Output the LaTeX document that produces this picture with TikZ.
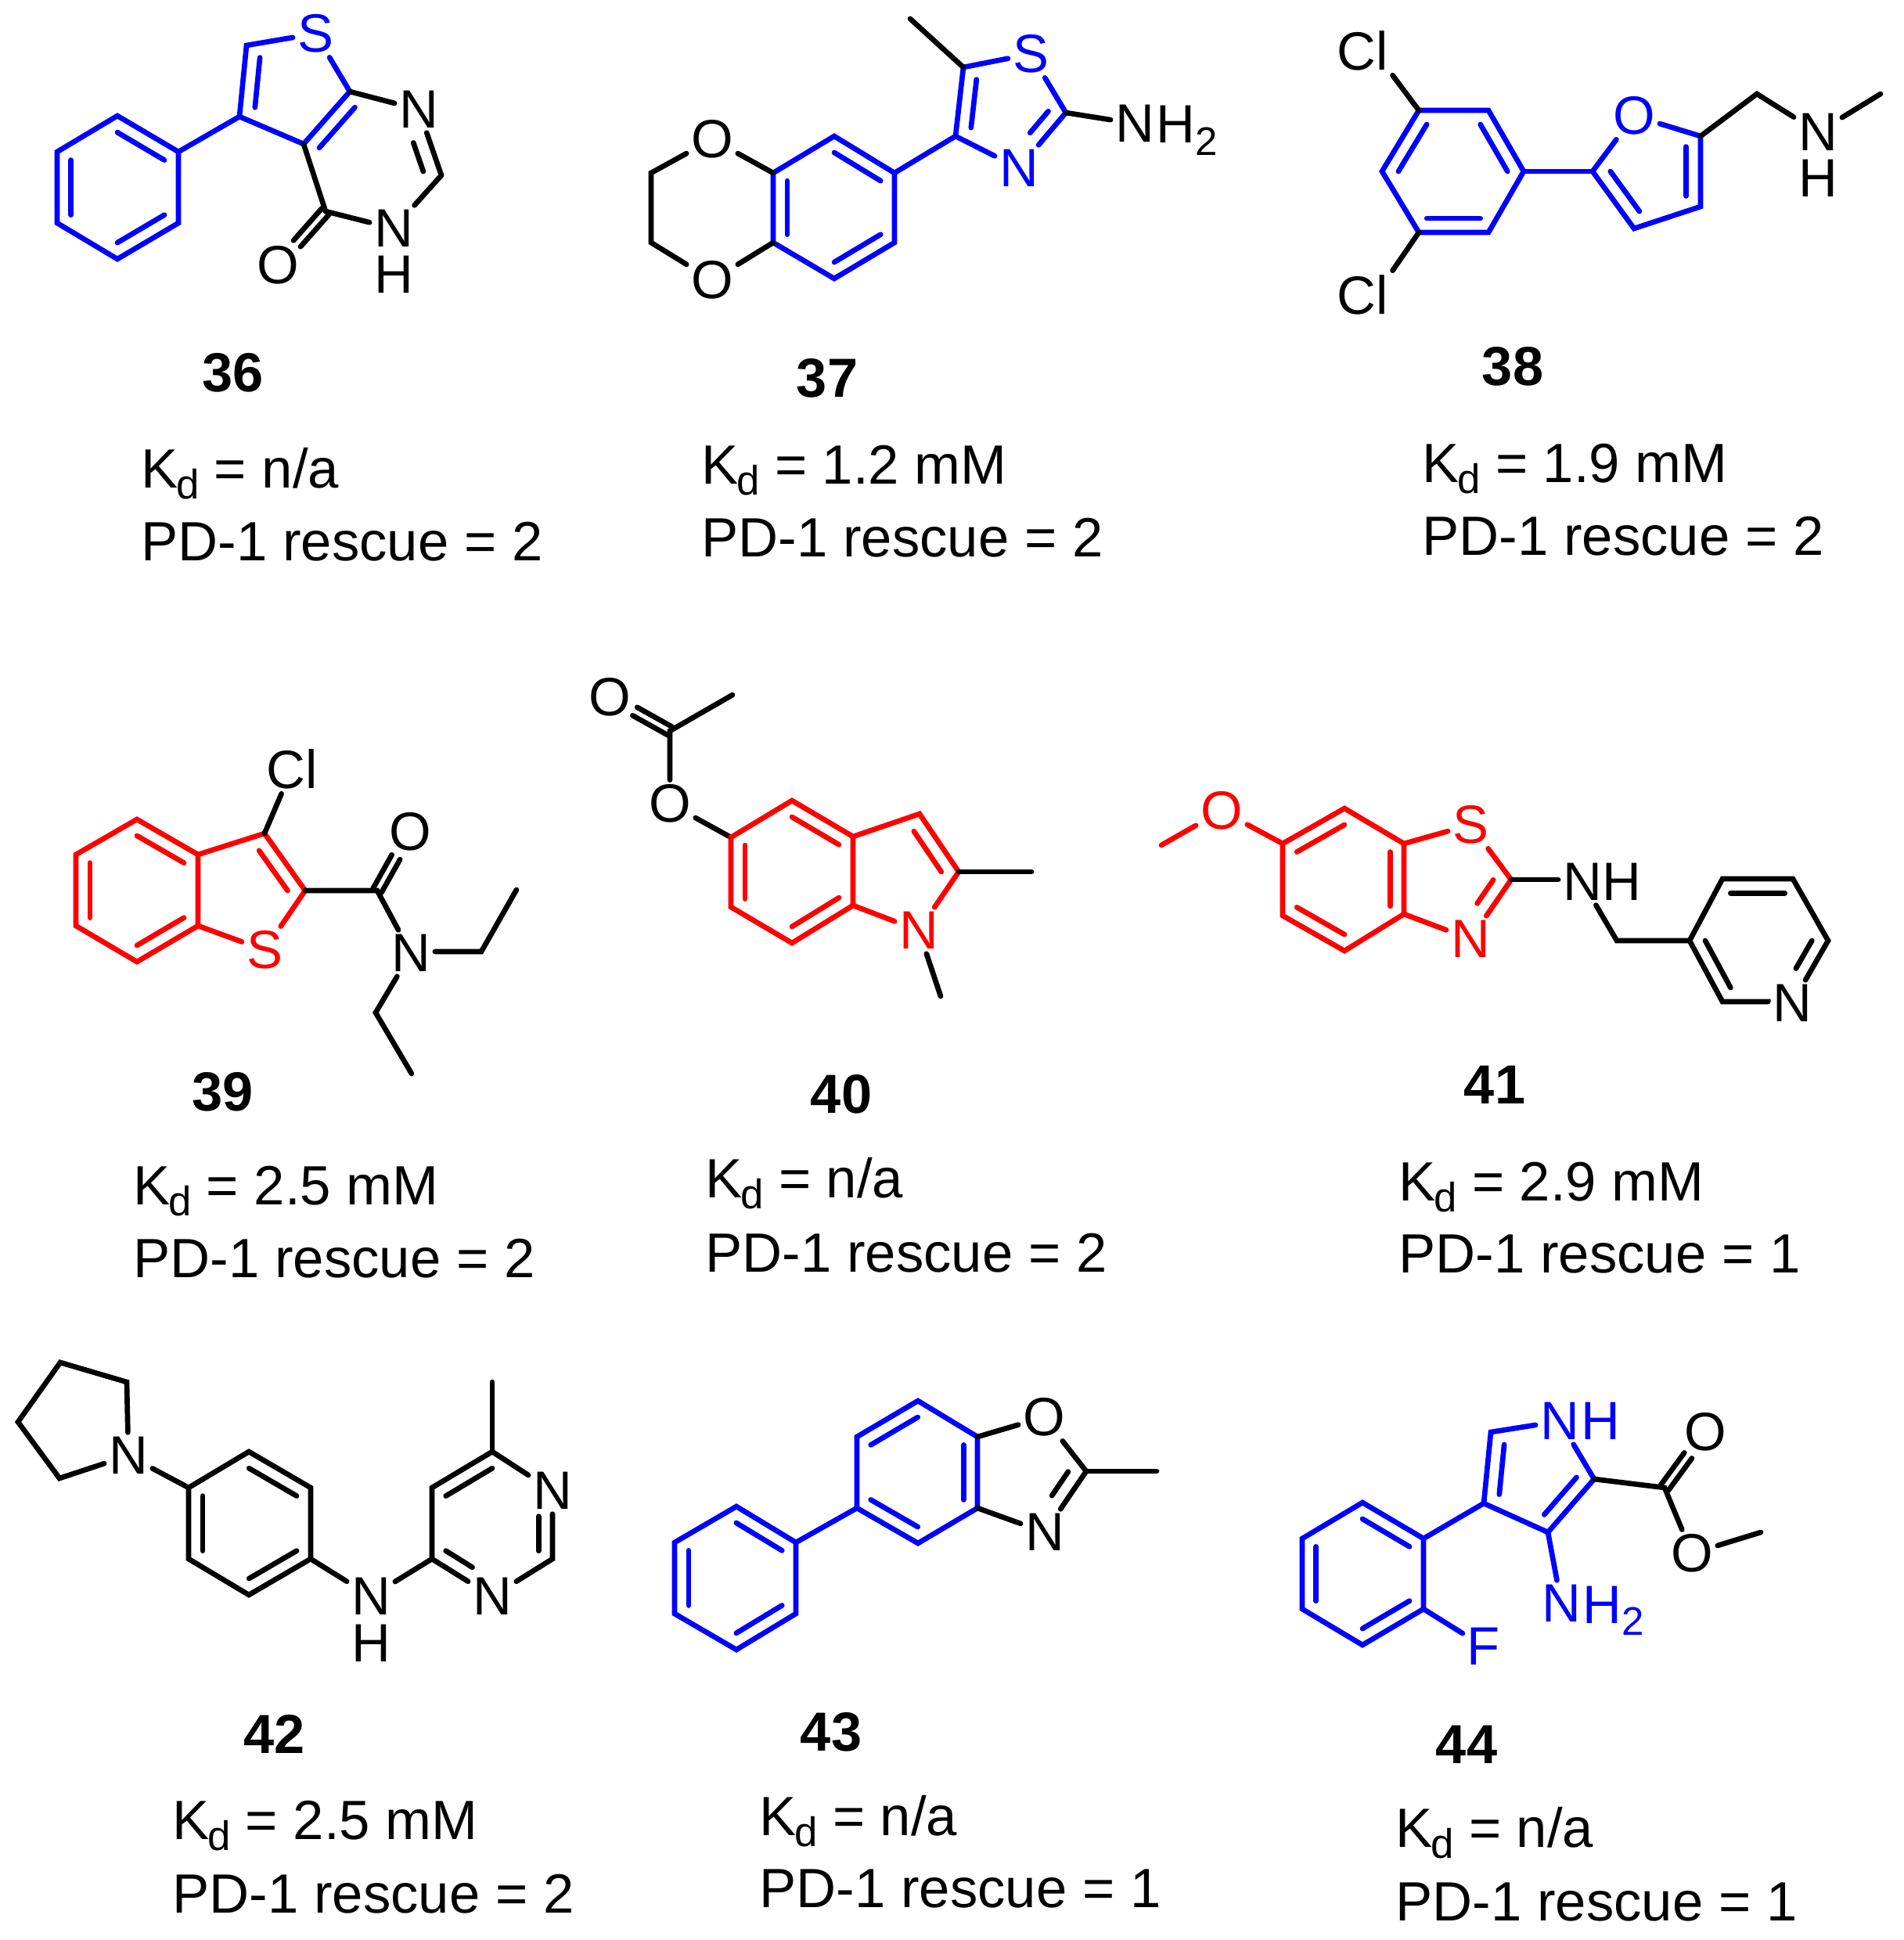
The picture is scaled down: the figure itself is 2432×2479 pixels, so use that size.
\documentclass[tikz,border=0pt]{standalone}
\usepackage{fontspec}
\setmainfont{Liberation Sans}
\usetikzlibrary{calc}
\newcommand{\inbond}[5][.23]{\draw[#2] ($(#3)!#1!(#5)$) -- ($(#4)!#1!(#5)$);}
\newcommand{\twobond}[2]{%
  \draw[blackbond,shorten >=.37cm] ($(#1)!.06cm!90:(#2)$) -- ($(#2)!.06cm!-90:(#1)$);
  \draw[blackbond,shorten >=.37cm] ($(#1)!.06cm!-90:(#2)$) -- ($(#2)!.06cm!90:(#1)$);}
\newcommand{\Kd}{K\kern-.04em\raisebox{-4pt}{\fontsize{15}{15}\selectfont d}}
\newcommand{\subtwo}{\raisebox{-4.5pt}{\fontsize{14.5}{14.5}\selectfont 2}}
\begin{document}
\begin{tikzpicture}[x=.01cm,y=-.01cm]
  \tikzstyle{atom}=[inner sep=1.5pt,font=\fontsize{19.6}{20}\selectfont]
  \tikzstyle{hatom}=[atom,inner sep=0pt]
  \tikzstyle{blueatom}=[atom,text=pureblue]
  \tikzstyle{redatom}=[atom,text=purered]
  \tikzstyle{blackbond}=[draw=black,line width=1.9pt,line cap=round,line join=miter]
  \tikzstyle{bluebond}=[blackbond,draw=pureblue]
  \tikzstyle{redbond}=[blackbond,draw=purered]
  \tikzstyle{number}=[anchor=base,inner sep=0pt,font=\fontsize{20}{22}\selectfont\bfseries]
  \tikzstyle{info}=[anchor=base west,inner sep=0pt,font=\fontsize{20.1}{21}\selectfont]
  \definecolor{pureblue}{rgb}{0,0,1}
  \definecolor{purered}{rgb}{1,0,0}
  \useasboundingbox (0,0) rectangle (2432,2479);

  % 36
  \begin{scope}
    \coordinate (a1) at (150,148);
    \coordinate (a2) at (228,194);
    \coordinate (a3) at (228,285);
    \coordinate (a4) at (150,331);
    \coordinate (a5) at (73,285);
    \coordinate (a6) at (73,194);
    \coordinate (ac) at (150,240);
    \coordinate (a7) at (306,149);
    \coordinate (a8) at (315,58);
    \node [blueatom] (aS) at (403,43) {S};
    \coordinate (a9) at (447,117);
    \coordinate (a10) at (388,184);
    \coordinate (ad) at (372,110);
    \coordinate (ae) at (475,205);
    \node [atom] (aN) at (535,140) {N};
    \coordinate (a11) at (564,224);
    \node [atom] (aM) at (503,292) {N};
    \node [hatom] (aH) at (503,351) {H};
    \coordinate (a12) at (416,270);
    \node [atom] (aO) at (355,339) {O};
    \draw[bluebond] (a1) -- (a2) -- (a3) -- (a4) -- (a5) -- (a6) -- cycle;
    \inbond{bluebond}{a1}{a2}{ac}
    \inbond{bluebond}{a3}{a4}{ac}
    \inbond{bluebond}{a5}{a6}{ac}
    \draw[bluebond] (a2) -- (a7);
    \draw[bluebond] (a9) -- (a10) -- (a7) -- (a8) -- (aS) -- (a9);
    \inbond[.3]{bluebond}{a7}{a8}{ad}
    \inbond{bluebond}{a9}{a10}{ae}
    \draw[blackbond] (a9) -- (aN);
    \draw[blackbond] (aN) -- (a11);
    \inbond[.26]{blackbond,shorten <=.27cm}{aN}{a11}{ae}
    \draw[blackbond] (a11) -- (aM);
    \draw[blackbond] (aM) -- (a12);
    \draw[blackbond] (a12) -- (a10);
    \twobond{a12}{aO}
    \node [number] (n36) at (298,501) {36};
    \node [info] (k36) at (180,623) {\Kd{} = n/a};
    \node [info] (p36) at (180,716) {PD-1 rescue = 2};
  \end{scope}

  % 37
  \begin{scope}
    \coordinate (b1) at (1066,174);
    \coordinate (b2) at (1143,221);
    \coordinate (b3) at (1143,310);
    \coordinate (b4) at (1066,356);
    \coordinate (b5) at (988,310);
    \coordinate (b6) at (988,221);
    \coordinate (bc) at (1066,265);
    \node [atom] (bO) at (910,178) {O};
    \node [atom] (bP) at (910,358) {O};
    \coordinate (b7) at (832,221);
    \coordinate (b8) at (832,310);
    \coordinate (b9) at (1221,174);
    \coordinate (b10) at (1231,86);
    \coordinate (b11) at (1163,24);
    \node [blueatom] (bS) at (1317,69) {S};
    \coordinate (b12) at (1362,144);
    \node [blueatom] (bN) at (1302,215) {N};
    \coordinate (bd) at (1287,138);
    \node [atom] (bM) at (1450,158) {N};
    \node [hatom,anchor=base west] (bH) at (1477,183) {H\subtwo};
    \draw[bluebond] (b1) -- (b2) -- (b3) -- (b4) -- (b5) -- (b6) -- cycle;
    \inbond{bluebond}{b1}{b2}{bc}
    \inbond{bluebond}{b3}{b4}{bc}
    \inbond{bluebond}{b5}{b6}{bc}
    \draw[blackbond] (b6) -- (bO);
    \draw[blackbond] (bO) -- (b7) -- (b8) -- (bP);
    \draw[blackbond] (bP) -- (b5);
    \draw[bluebond] (b2) -- (b9);
    \draw[bluebond] (bN) -- (b9) -- (b10) -- (bS);
    \draw[bluebond] (bS) -- (b12);
    \draw[bluebond] (b12) -- (bN);
    \inbond[.3]{bluebond}{b9}{b10}{bd}
    \inbond[.3]{bluebond,shorten >=.29cm}{b12}{bN}{bd}
    \draw[blackbond] (b10) -- (b11);
    \draw[blackbond] (b12) -- (bM);
    \node [number] (n37) at (1057,508) {37};
    \node [info] (k37) at (896,618) {\Kd{} = 1.2 mM};
    \node [info] (p37) at (896,711) {PD-1 rescue = 2};
  \end{scope}

  % 38
  \begin{scope}
    \coordinate (c1) at (1813,141);
    \coordinate (c2) at (1902,141);
    \coordinate (c3) at (1947,219);
    \coordinate (c4) at (1902,297);
    \coordinate (c5) at (1813,297);
    \coordinate (c6) at (1766,219);
    \coordinate (cc) at (1857,219);
    \node [atom] (cK) at (1741,65) {Cl};
    \node [atom] (cL) at (1741,377) {Cl};
    \coordinate (c7) at (2035,219);
    \node [blueatom] (cO) at (2088,148) {O};
    \coordinate (c8) at (2173,174);
    \coordinate (c9) at (2173,264);
    \coordinate (c10) at (2088,292);
    \coordinate (cd) at (2111,219);
    \coordinate (c11) at (2245,120);
    \node [atom] (cN) at (2323,169) {N};
    \node [hatom] (cH) at (2323,228) {H};
    \coordinate (c12) at (2403,120);
    \draw[bluebond] (c1) -- (c2) -- (c3) -- (c4) -- (c5) -- (c6) -- cycle;
    \inbond{bluebond}{c1}{c6}{cc}
    \inbond{bluebond}{c2}{c3}{cc}
    \inbond{bluebond}{c4}{c5}{cc}
    \draw[blackbond] (c1) -- (cK.south east);
    \draw[blackbond] (c5) -- (cL.north east);
    \draw[bluebond] (c3) -- (c7);
    \draw[bluebond] (cO) -- (c7) -- (c10) -- (c9) -- (c8) -- (cO);
    \inbond[.3]{bluebond}{c7}{c10}{cd}
    \inbond[.3]{bluebond}{c8}{c9}{cd}
    \draw[blackbond] (c8) -- (c11) -- (cN);
    \draw[blackbond] (cN) -- (c12);
    \node [number] (n38) at (1933,492) {38};
    \node [info] (k38) at (1817,616) {\Kd{} = 1.9 mM};
    \node [info] (p38) at (1817,709) {PD-1 rescue = 2};
  \end{scope}

  % 39
  \begin{scope}
    \coordinate (d1) at (175,1047);
    \coordinate (d2) at (253,1092);
    \coordinate (d3) at (253,1183);
    \coordinate (d4) at (175,1229);
    \coordinate (d5) at (97,1183);
    \coordinate (d6) at (97,1092);
    \coordinate (dc) at (175,1138);
    \coordinate (d7) at (338,1065);
    \coordinate (d8) at (390,1138);
    \coordinate (dd) at (315,1138);
    \node [redatom] (dS) at (338,1214) {S};
    \node [atom] (dK) at (373,983) {Cl};
    \coordinate (d9) at (482,1138);
    \node [atom] (dO) at (524,1063) {O};
    \node [atom] (dN) at (525,1218) {N};
    \coordinate (d10) at (615,1216);
    \coordinate (d11) at (660,1137);
    \coordinate (d12) at (480,1294);
    \coordinate (d13) at (526,1372);
    \draw[redbond] (d1) -- (d2) -- (d3) -- (d4) -- (d5) -- (d6) -- cycle;
    \inbond{redbond}{d1}{d2}{dc}
    \inbond{redbond}{d3}{d4}{dc}
    \inbond{redbond}{d5}{d6}{dc}
    \draw[redbond] (d2) -- (d7) -- (d8) -- (dS);
    \draw[redbond] (dS) -- (d3);
    \inbond[.3]{redbond}{d7}{d8}{dd}
    \draw[blackbond] (d7) -- (dK);
    \draw[blackbond] (d8) -- (d9) -- (dN);
    \twobond{d9}{dO}
    \draw[blackbond] (d10 -| dN.east) -- (d10) -- (d11);
    \draw[blackbond] (dN) -- (d12) -- (d13);
    \node [number] (n39) at (285,1419) {39};
    \node [info] (k39) at (170,1539) {\Kd{} = 2.5 mM};
    \node [info] (p39) at (170,1632) {PD-1 rescue = 2};
  \end{scope}

  % 40
  \begin{scope}
    \node [atom] (eO) at (779,891) {O};
    \coordinate (e1) at (856,934);
    \coordinate (e2) at (936,888);
    \node [atom] (eP) at (856,1027) {O};
    \coordinate (e3) at (934,1070);
    \coordinate (e4) at (1012,1023);
    \coordinate (e5) at (1090,1069);
    \coordinate (e6) at (1090,1157);
    \coordinate (e7) at (1012,1205);
    \coordinate (e8) at (934,1159);
    \coordinate (ec) at (1012,1114);
    \coordinate (e9) at (1175,1040);
    \coordinate (e10) at (1225,1114);
    \coordinate (ed) at (1151,1114);
    \node [redatom] (eN) at (1174,1189) {N};
    \coordinate (e11) at (1318,1114);
    \coordinate (e12) at (1202,1273);
    \twobond{e1}{eO}
    \draw[blackbond] (e2) -- (e1) -- (eP);
    \draw[blackbond] (eP) -- (e3);
    \draw[redbond] (e3) -- (e4) -- (e5) -- (e6) -- (e7) -- (e8) -- cycle;
    \inbond{redbond}{e3}{e8}{ec}
    \inbond{redbond}{e4}{e5}{ec}
    \inbond{redbond}{e6}{e7}{ec}
    \draw[redbond] (e5) -- (e9) -- (e10) -- (eN);
    \draw[redbond] (eN) -- (e6);
    \inbond[.3]{redbond}{e9}{e10}{ed}
    \draw[blackbond] (e10) -- (e11);
    \draw[blackbond] (eN) -- (e12);
    \node [number] (n40) at (1075,1422) {40};
    \node [info] (k40) at (901,1530) {\Kd{} = n/a};
    \node [info] (p40) at (901,1625) {PD-1 rescue = 2};
  \end{scope}

  % 41
  \begin{scope}
    \coordinate (f1) at (1484,1080);
    \node [redatom] (fO) at (1561,1036) {O};
    \coordinate (f2) at (1639,1078);
    \coordinate (f3) at (1718,1033);
    \coordinate (f4) at (1794,1078);
    \coordinate (f5) at (1794,1168);
    \coordinate (f6) at (1718,1215);
    \coordinate (f7) at (1639,1170);
    \coordinate (fc) at (1718,1124);
    \node [redatom] (fS) at (1879,1054) {S};
    \coordinate (f8) at (1931,1124);
    \node [redatom] (fN) at (1879,1200) {N};
    \coordinate (fd) at (1855,1125);
    \node [atom] (fM) at (2022,1127) {N};
    \node [hatom] (fH) at (2072,1127) {H};
    \coordinate (f9) at (2066,1202);
    \coordinate (f10) at (2159,1202);
    \coordinate (f11) at (2201,1123);
    \coordinate (f12) at (2291,1123);
    \coordinate (f13) at (2336,1202);
    \node [atom] (fP) at (2290,1282) {N};
    \coordinate (f14) at (2201,1280);
    \coordinate (fe) at (2246,1202);
    \draw[redbond] (f1) -- (fO);
    \draw[redbond] (fO) -- (f2);
    \draw[redbond] (f2) -- (f3) -- (f4) -- (f5) -- (f6) -- (f7) -- cycle;
    \inbond{redbond}{f2}{f3}{fc}
    \inbond{redbond}{f4}{f5}{fc}
    \inbond{redbond}{f6}{f7}{fc}
    \draw[redbond] (f4) -- (fS);
    \draw[redbond] (fS) -- (f8) -- (fN);
    \draw[redbond] (fN) -- (f5);
    \inbond[.3]{redbond,shorten >=.28cm}{f8}{fN}{fd}
    \draw[blackbond] (f8) -- (f8 -| fM.west);
    \draw[blackbond] (fM) -- (f9) -- (f10);
    \draw[blackbond] (f10) -- (f11) -- (f12) -- (f13) -- (fP);
    \draw[blackbond] (fP) -- (f14 -| fP.west) -- (f14) -- (f10);
    \inbond{blackbond}{f11}{f12}{fe}
    \inbond{blackbond}{f10}{f14}{fe}
    \inbond{blackbond,shorten >=.3cm}{f13}{fP}{fe}
    \node [number] (n41) at (1910,1410) {41};
    \node [info] (k41) at (1787,1534) {\Kd{} = 2.9 mM};
    \node [info] (p41) at (1787,1626) {PD-1 rescue = 1};
  \end{scope}

  % 42
  \begin{scope}
    \coordinate (g1) at (77,1741);
    \coordinate (g2) at (162,1766);
    \node [atom] (gN) at (164,1860) {N};
    \coordinate (g3) at (76,1889);
    \coordinate (g4) at (23,1817);
    \coordinate (g5) at (241,1901);
    \coordinate (g6) at (318,1855);
    \coordinate (g7) at (397,1901);
    \coordinate (g8) at (397,1992);
    \coordinate (g9) at (318,2038);
    \coordinate (g10) at (241,1992);
    \coordinate (gc) at (319,1947);
    \node [atom] (gM) at (474,2040) {N};
    \node [hatom] (gH) at (474,2100) {H};
    \coordinate (g11) at (552,1992);
    \coordinate (g12) at (552,1901);
    \coordinate (g13) at (629,1855);
    \coordinate (g14) at (629,1766);
    \node [atom] (gP) at (706,1905) {N};
    \coordinate (g15) at (706,1992);
    \node [atom] (gQ) at (629,2040) {N};
    \coordinate (gd) at (629,1947);
    \draw[blackbond] (gN) -- (g2) -- (g1) -- (g4) -- (g3) -- (gN);
    \draw[blackbond] (gN) -- (g5);
    \draw[blackbond] (g5) -- (g6) -- (g7) -- (g8) -- (g9) -- (g10) -- cycle;
    \inbond{blackbond}{g5}{g10}{gc}
    \inbond{blackbond}{g6}{g7}{gc}
    \inbond{blackbond}{g8}{g9}{gc}
    \draw[blackbond] (g8) -- (gM);
    \draw[blackbond] (gM) -- (g11);
    \draw[blackbond] (gQ) -- (g11) -- (g12) -- (g13) -- (gP);
    \draw[blackbond] (gP) -- (g15) -- (gQ);
    \draw[blackbond] (g13) -- (g14);
    \inbond{blackbond}{g12}{g13}{gd}
    \inbond{blackbond,shorten >=.3cm}{g11}{gQ}{gd}
    \inbond{blackbond,shorten >=.23cm}{g15}{gP}{gd}
    \node [number] (n42) at (351,2240) {42};
    \node [info] (k42) at (220,2350) {\Kd{} = 2.5 mM};
    \node [info] (p42) at (220,2444) {PD-1 rescue = 2};
  \end{scope}

  % 43
  \begin{scope}
    \coordinate (h1) at (941,1925);
    \coordinate (h2) at (1017,1971);
    \coordinate (h3) at (1017,2062);
    \coordinate (h4) at (941,2108);
    \coordinate (h5) at (862,2062);
    \coordinate (h6) at (862,1971);
    \coordinate (hc) at (940,2016);
    \coordinate (h7) at (1095,1927);
    \coordinate (h8) at (1095,1836);
    \coordinate (h9) at (1173,1790);
    \coordinate (h10) at (1249,1836);
    \coordinate (h11) at (1249,1927);
    \coordinate (h12) at (1173,1972);
    \coordinate (hd) at (1172,1881);
    \node [atom] (hO) at (1334,1811) {O};
    \coordinate (h13) at (1388,1880);
    \node [atom] (hN) at (1335,1958) {N};
    \coordinate (h14) at (1478,1880);
    \coordinate (he) at (1311,1882);
    \draw[bluebond] (h1) -- (h2) -- (h3) -- (h4) -- (h5) -- (h6) -- cycle;
    \inbond{bluebond}{h1}{h2}{hc}
    \inbond{bluebond}{h3}{h4}{hc}
    \inbond{bluebond}{h5}{h6}{hc}
    \draw[bluebond] (h2) -- (h7);
    \draw[bluebond] (h7) -- (h8) -- (h9) -- (h10) -- (h11) -- (h12) -- cycle;
    \inbond{bluebond}{h7}{h12}{hd}
    \inbond{bluebond}{h8}{h9}{hd}
    \inbond{bluebond}{h10}{h11}{hd}
    \draw[blackbond] (h10) -- (hO);
    \draw[blackbond] (hO) -- (h13) -- (hN);
    \draw[blackbond] (hN) -- (h11);
    \draw[blackbond] (h13) -- (h14);
    \inbond[.3]{blackbond,shorten >=.29cm}{h13}{hN}{he}
    \node [number] (n43) at (1062,2237) {43};
    \node [info] (k43) at (970,2345) {\Kd{} = n/a};
    \node [info] (p43) at (970,2437) {PD-1 rescue = 1};
  \end{scope}

  % 44
  \begin{scope}
    \coordinate (i1) at (1741,1920);
    \coordinate (i2) at (1819,1966);
    \coordinate (i3) at (1819,2056);
    \coordinate (i4) at (1741,2102);
    \coordinate (i5) at (1664,2056);
    \coordinate (i6) at (1664,1966);
    \coordinate (ic) at (1741,2011);
    \node [blueatom] (iF) at (1896,2104) {F};
    \coordinate (i7) at (1896,1921);
    \coordinate (i8) at (1905,1830);
    \node [blueatom] (iN) at (1993,1816) {N};
    \node [hatom,text=pureblue] (iH) at (2045,1816) {H};
    \coordinate (i9) at (2037,1890);
    \coordinate (i10) at (1978,1958);
    \coordinate (id) at (1962,1883);
    \node [blueatom] (iM) at (1995,2049) {N};
    \node [hatom,text=pureblue,anchor=base west] (iI) at (2022,2074) {H\subtwo};
    \coordinate (i11) at (2127,1901);
    \node [atom] (iO) at (2179,1830) {O};
    \node [atom] (iP) at (2162,1985) {O};
    \coordinate (i12) at (2250,1958);
    \draw[bluebond] (i1) -- (i2) -- (i3) -- (i4) -- (i5) -- (i6) -- cycle;
    \inbond{bluebond}{i1}{i2}{ic}
    \inbond{bluebond}{i3}{i4}{ic}
    \inbond{bluebond}{i5}{i6}{ic}
    \draw[bluebond] (i3) -- (iF);
    \draw[bluebond] (i2) -- (i7);
    \draw[bluebond] (iN) -- (i8) -- (i7) -- (i10) -- (i9) -- (iN);
    \inbond[.3]{bluebond}{i7}{i8}{id}
    \inbond[.3]{bluebond}{i9}{i10}{id}
    \draw[bluebond] (i10) -- (iM);
    \draw[blackbond] (i9) -- (i11) -- (iP);
    \twobond{i11}{iO}
    \draw[blackbond] (iP) -- (i12);
    \node [number] (n44) at (1874,2253) {44};
    \node [info] (k44) at (1783,2360) {\Kd{} = n/a};
    \node [info] (p44) at (1783,2454) {PD-1 rescue = 1};
  \end{scope}
\end{tikzpicture}
\end{document}
